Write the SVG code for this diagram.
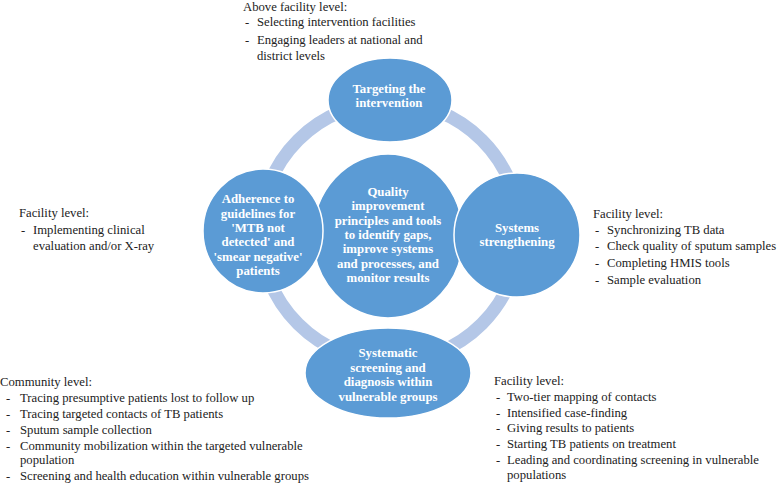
<svg xmlns="http://www.w3.org/2000/svg" width="778" height="483" viewBox="0 0 778 483">
<style>
.t{font-family:"Liberation Serif","Times New Roman",serif;font-size:12.7px;fill:#222}
.n{fill:#5b9bd5;stroke:#fff;stroke-width:1.5}
.nt{font-family:"Liberation Serif","Times New Roman",serif;font-size:12.8px;font-weight:bold;fill:#fff;text-anchor:middle}
.ring{fill:none;stroke:#b4c7e7;stroke-width:13}
</style>
<rect width="778" height="483" fill="#fff"/>
<g id="connectors">
<circle class="ring" cx="390" cy="232" r="130"/>
</g>
<g id="center">
<ellipse class="n" cx="388" cy="236" rx="75" ry="82"/>
<text class="nt" x="388" y="196">Quality</text>
<text class="nt" x="388" y="210.3">improvement</text>
<text class="nt" x="388" y="224.6">principles and tools</text>
<text class="nt" x="388" y="238.9">to identify gaps,</text>
<text class="nt" x="388" y="253.2">improve systems</text>
<text class="nt" x="388" y="267.5">and processes, and</text>
<text class="nt" x="388" y="281.8">monitor results</text>
</g>
<g id="top">
<ellipse class="n" cx="390" cy="100" rx="62" ry="42"/>
<text class="nt" x="389" y="93">Targeting the</text>
<text class="nt" x="389" y="107">intervention</text>
</g>
<g id="left">
<ellipse class="n" cx="263" cy="231" rx="60" ry="62"/>
<text class="nt" x="258" y="203">Adherence to</text>
<text class="nt" x="258" y="217.5">guidelines for</text>
<text class="nt" x="258" y="232">'MTB not</text>
<text class="nt" x="258" y="246">detected' and</text>
<text class="nt" x="258" y="260.5">'smear negative'</text>
<text class="nt" x="258" y="275">patients</text>
</g>
<g id="right">
<ellipse class="n" cx="517" cy="235" rx="63" ry="62"/>
<text class="nt" x="517" y="232">Systems</text>
<text class="nt" x="517" y="246">strengthening</text>
</g>
<g id="bottom">
<ellipse class="n" cx="388" cy="373" rx="83" ry="45"/>
<text class="nt" x="388" y="357">Systematic</text>
<text class="nt" x="388" y="371.5">screening and</text>
<text class="nt" x="388" y="386">diagnosis within</text>
<text class="nt" x="388" y="400.5">vulnerable groups</text>
</g>
<g id="text-top">
<text class="t" x="243" y="11">Above facility level:</text>
<text class="t" x="245" y="26">-</text><text class="t" x="257" y="26">Selecting intervention facilities</text>
<text class="t" x="245" y="44">-</text><text class="t" x="257" y="44">Engaging leaders at national and</text>
<text class="t" x="257" y="60">district levels</text>
</g>
<g id="text-left">
<text class="t" x="19" y="217">Facility level:</text>
<text class="t" x="21" y="234">-</text><text class="t" x="33" y="234">Implementing clinical</text>
<text class="t" x="33" y="250">evaluation and/or X-ray</text>
</g>
<g id="text-right">
<text class="t" x="593" y="218">Facility level:</text>
<text class="t" x="595" y="234">-</text><text class="t" x="607" y="234">Synchronizing TB data</text>
<text class="t" x="595" y="250">-</text><text class="t" x="607" y="250">Check quality of sputum samples</text>
<text class="t" x="595" y="267">-</text><text class="t" x="607" y="267">Completing HMIS tools</text>
<text class="t" x="595" y="284">-</text><text class="t" x="607" y="284">Sample evaluation</text>
</g>
<g id="text-bottom-left">
<text class="t" x="0" y="386">Community level:</text>
<text class="t" x="6" y="402">-</text><text class="t" x="20" y="402">Tracing presumptive patients lost to follow up</text>
<text class="t" x="6" y="418">-</text><text class="t" x="20" y="418">Tracing targeted contacts of TB patients</text>
<text class="t" x="6" y="434">-</text><text class="t" x="20" y="434">Sputum sample collection</text>
<text class="t" x="6" y="450">-</text><text class="t" x="20" y="450">Community mobilization within the targeted vulnerable</text>
<text class="t" x="20" y="464">population</text>
<text class="t" x="6" y="480">-</text><text class="t" x="20" y="480">Screening and health education within vulnerable groups</text>
</g>
<g id="text-bottom-right">
<text class="t" x="494" y="385">Facility level:</text>
<text class="t" x="496" y="401">-</text><text class="t" x="507" y="401">Two-tier mapping of contacts</text>
<text class="t" x="496" y="417">-</text><text class="t" x="507" y="417">Intensified case-finding</text>
<text class="t" x="496" y="432">-</text><text class="t" x="507" y="432">Giving results to patients</text>
<text class="t" x="496" y="448">-</text><text class="t" x="507" y="448">Starting TB patients on treatment</text>
<text class="t" x="496" y="464">-</text><text class="t" x="507" y="464">Leading and coordinating screening in vulnerable</text>
<text class="t" x="507" y="479">populations</text>
</g>
</svg>
